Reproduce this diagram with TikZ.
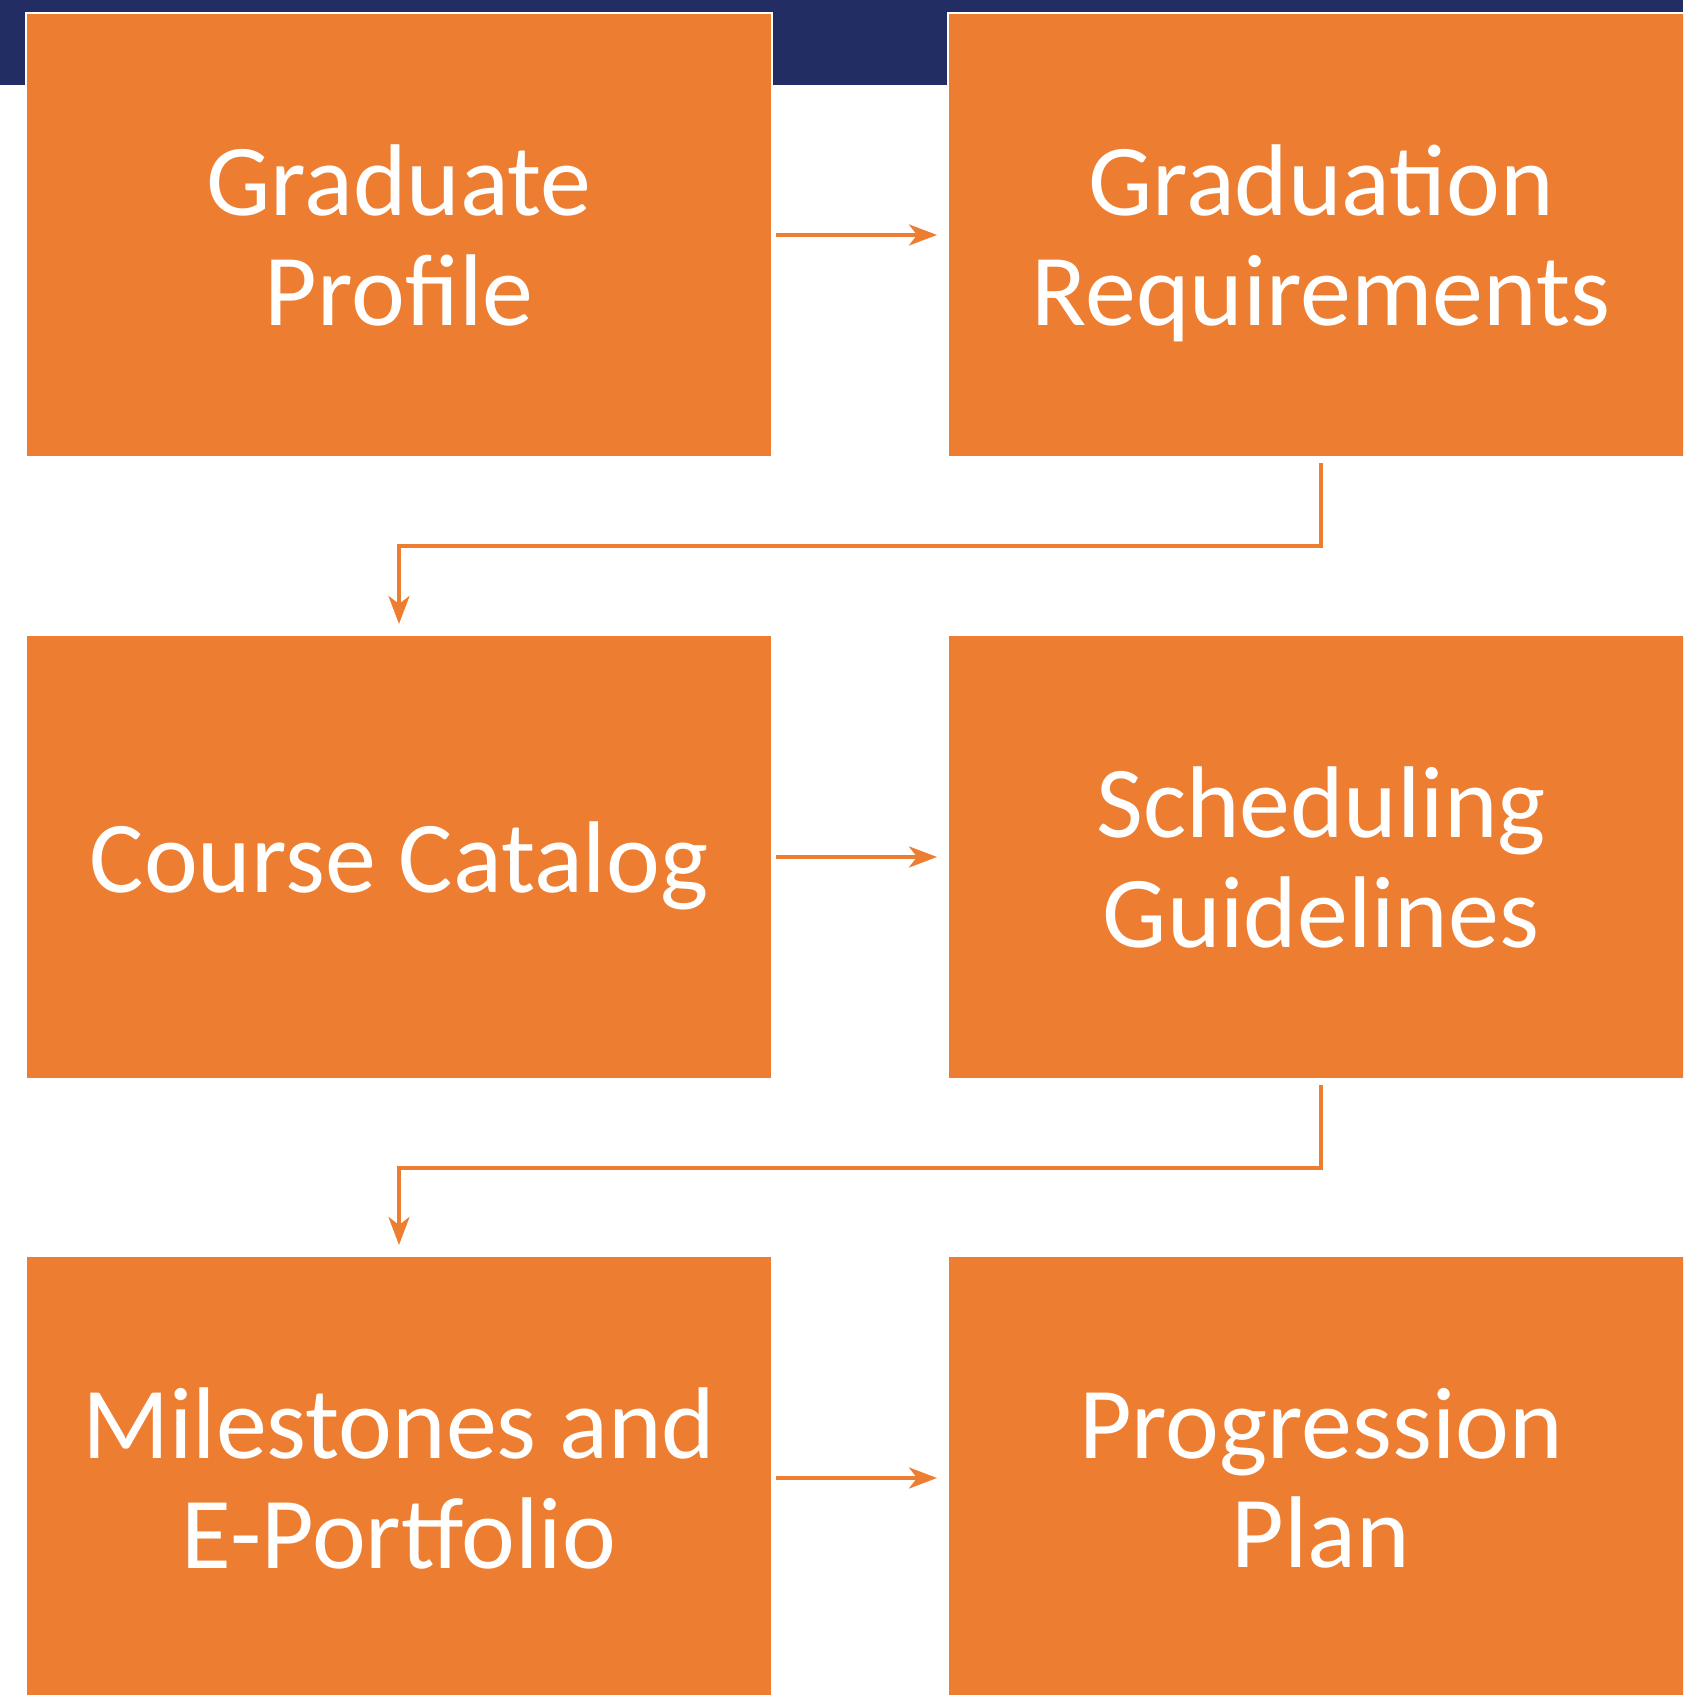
\documentclass[tikz,border=0pt]{standalone}
\usepackage{fontspec}
\setmainfont{Carlito}
\usepackage{tikz}
\usetikzlibrary{arrows.meta}
\definecolor{boxorange}{HTML}{ED7D31}
\definecolor{bandnavy}{HTML}{222D63}

\begin{document}
\begin{tikzpicture}[
		box/.style={rectangle, fill=boxorange, draw=white, line width=0.6pt,
			minimum width=7.46cm, minimum height=4.44cm, outer sep=0pt,
			text=white, align=center, text depth=0pt,
			font=\fontsize{29}{31.2}\selectfont},
		flow/.style={draw=boxorange, line width=1.1pt,
			-{Stealth[length=0.28cm, width=0.21cm, inset=0.08cm]},
			shorten <=0.04cm, shorten >=0.11cm}]
		\useasboundingbox (0,0) rectangle (16.83,16.95);
		\clip (0,0) rectangle (16.83,16.95);
		\fill[bandnavy] (0,16.10) rectangle (16.83,16.95);
		% boxes
		\node[box] (profile) at (3.99,14.60) {Graduate\\Profile};
		\node[box] (grad) at (13.21,14.60) {Graduation\\Requirements};
		\node[box] (catalog) at (3.99,8.38) {Course Catalog};
		\node[box] (sched) at (13.21,8.38) {Scheduling\\Guidelines};
		\node[box] (mile) at (3.99,2.17) {Milestones and\\E-Portfolio};
		\node[box] (plan) at (13.21,2.17) {Progression\\Plan};
		% connectors
		\draw[flow] (profile) -- (grad);
		\draw[flow, shorten <=0.06cm] (grad.south) -- ++(0,-0.89) -| (catalog.north);
		\draw[flow] (catalog) -- (sched);
		\draw[flow, shorten <=0.06cm] (sched.south) -- ++(0,-0.89) -| (mile.north);
		\draw[flow] (mile) -- (plan);
	\end{tikzpicture}
\end{document}
